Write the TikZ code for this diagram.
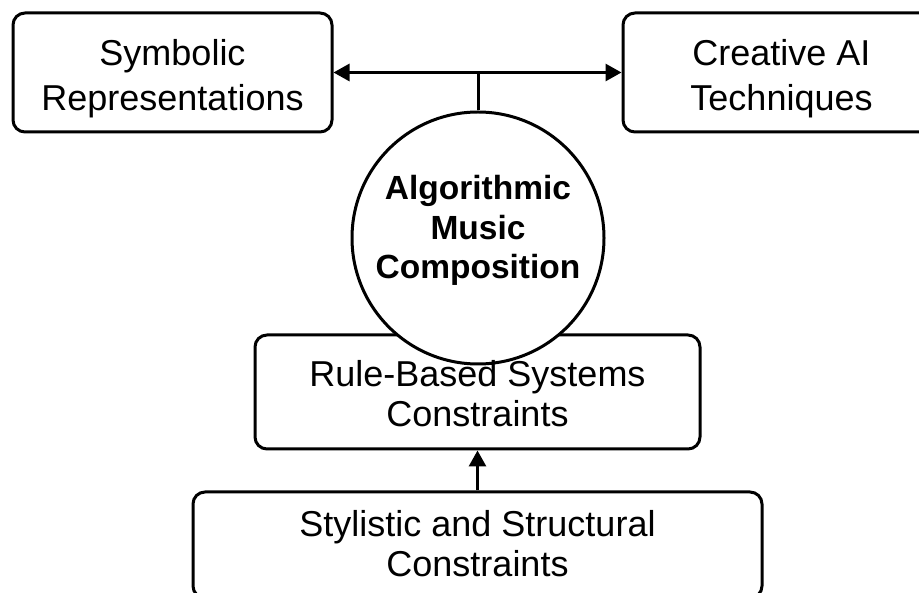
\documentclass[tikz,border=0pt]{standalone}
\usepackage{fontspec}
\setmainfont{Liberation Sans}
\usetikzlibrary{arrows.meta}
\pgfdeclarelayer{background}
\pgfsetlayers{background,main}
\newcommand{\myup}[1]{\rule{0pt}{#1}}
\newcommand{\mydn}[1]{\rule[-#1]{0pt}{#1}}
\tikzset{
  box/.style={draw=black, line width=3pt, rounded corners=12pt, fill=white, align=center, inner sep=0pt},
  plain/.style={draw=none, fill=none, align=center, inner sep=0pt, outer sep=0pt},
  outline/.style={draw=black, line width=3pt, rounded corners=12pt, fill=white},
  hub/.style={draw=black, line width=3pt, circle, fill=white, align=center, inner sep=0pt,
    font=\fontsize{33.5}{39.5}\selectfont\bfseries},
  link/.style={line width=3pt, draw=black},
  tip/.style={-{Triangle[length=16pt,width=17pt]}},
  tips/.style={{Triangle[length=16pt,width=17pt]}-{Triangle[length=16pt,width=17pt]}}
}
\begin{document}
\begin{tikzpicture}[x=1pt,y=-1pt]
\useasboundingbox (0,0) rectangle (919,593);
\begin{scope}
\clip (0,0) rectangle (919,593);
\node[box, font=\fontsize{36}{45}\selectfont, minimum width=319pt, minimum height=119pt] (sym) at (172.5,72.5) {\myup{37.6pt}Symbolic\\Representations};
\node[box, font=\fontsize{36}{45}\selectfont, minimum width=317pt, minimum height=119pt] (cre) at (781.5,72.5) {\myup{37.6pt}Creative AI\\Techniques};
\node[box, font=\fontsize{36}{40}\selectfont, minimum width=569pt, minimum height=106pt] (sty) at (477.5,545) {Stylistic and Structural\\Constraints\mydn{2.6pt}};
\node[hub, minimum size=252pt] (alg) at (478,238) {Algorithmic\\Music\\Composition\mydn{21.5pt}};
\node[plain, font=\fontsize{36}{40}\selectfont, minimum width=445pt, minimum height=114pt] (rule) at (477.5,392) {\myup{30pt}Rule-Based Systems\\Constraints};
\draw[link, tips] (sym.east) -- (cre.west);
\draw[link] (alg.north) -- (alg.north |- sym.east);
\draw[link, tip, shorten >=1.5pt] (sty.north) -- (rule.south);
\end{scope}
\begin{pgfonlayer}{background}
\draw[outline] (rule.south west) rectangle (rule.north east);
\end{pgfonlayer}
\end{tikzpicture}
\end{document}
